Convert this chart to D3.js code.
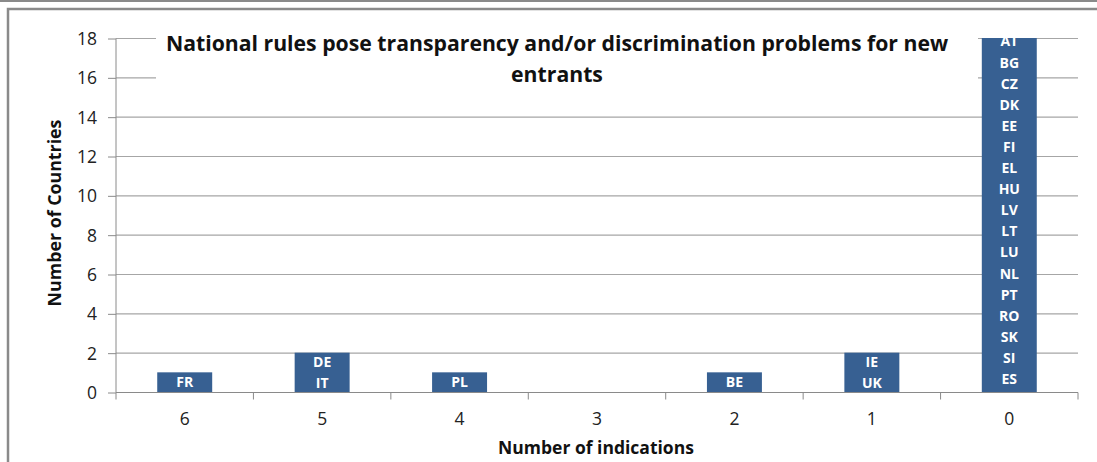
<!DOCTYPE html>
<html lang="en">
<head>
<meta charset="utf-8">
<title>indications</title>
<script src="https://d3js.org/d3.v7.min.js"></script>
<style type="text/css">
  body { margin: 0; background: #fff; }
  text { font-family: "Open Sans", Lato, sans-serif; }
  .tick text { font-size: 17.5px; fill: #222; }
  .axis-title { font-size: 16px; font-weight: bold; fill: #111; }
  .title { font-size: 18px; font-weight: bold; fill: #111; text-anchor: middle; }
  .bar-label { font-size: 14px; font-weight: bold; fill: #fff; text-anchor: middle; }
</style>
</head>
<body>
<div id="chart"></div>
<script type="text/javascript">
// data
var categories = ["6", "5", "4", "3", "2", "1", "0"];
var counts = [1, 2, 1, 0, 1, 2, 18];
var countries = [
  ["FR"],
  ["DE", "IT"],
  ["PL"],
  [],
  ["BE"],
  ["IE", "UK"],
  ["AT", "BG", "CZ", "DK", "EE", "FI", "EL", "HU", "LV", "LT", "LU", "NL", "PT", "RO", "SK", "SI", "ES"]
];
var yTicks = [0, 2, 4, 6, 8, 10, 12, 14, 16, 18];

var w = 1097, h = 462;
var plotLeft = 116, plotRight = 1078, plotTop = 38, plotBottom = 392;

var svg = d3.select("#chart").append("svg")
  .attr("width", w)
  .attr("height", h);

// shrink/grow a text so it spans the width seen in the picture
function fitWidth(sel, target) {
  var len = sel.node().getComputedTextLength();
  var fs = parseFloat(window.getComputedStyle(sel.node()).fontSize);
  sel.style("font-size", (fs * target / len) + "px");
  return fs * target / len;
}

// outer frame
svg.append("line")
  .attr("x1", 0).attr("x2", w).attr("y1", 1).attr("y2", 1)
  .style("stroke", "#8a8a8a").style("stroke-width", 2);
svg.append("path")
  .attr("d", "M8," + h + "V9H" + w)
  .style("fill", "none").style("stroke", "#8a8a8a").style("stroke-width", 2.5);

var x = d3.scaleBand().domain(categories).range([plotLeft, plotRight]).paddingInner(0).paddingOuter(0);
var y = d3.scaleLinear().domain([0, 18]).range([plotBottom, plotTop]);
var barW = x.bandwidth() / 2.5;

// gridlines
svg.append("g").selectAll("line")
  .data(yTicks.filter(function(d) { return d > 0; }))
  .enter().append("line")
  .attr("x1", plotLeft).attr("x2", plotRight)
  .attr("y1", function(d) { return y(d) + 0.5; })
  .attr("y2", function(d) { return y(d) + 0.5; })
  .style("stroke", "#a6a6a6").style("stroke-width", 1.2);

// y axis
var yAxis = d3.axisLeft(y).tickValues(yTicks).tickSize(8).tickPadding(11);
var gy = svg.append("g").attr("transform", "translate(" + plotLeft + ",0.5)").call(yAxis);
gy.attr("font-family", null).attr("font-size", null);
gy.select(".domain").remove();
gy.append("line").attr("x1", 0).attr("x2", 0).attr("y1", plotTop).attr("y2", plotBottom)
  .style("stroke", "#8a8a8a");
gy.selectAll(".tick line").style("stroke", "#8a8a8a");
gy.selectAll(".tick text").attr("dy", "0.35em");

// x axis: ticks between categories
var xAxis = d3.axisBottom(x).tickSize(0).tickPadding(20);
var gx = svg.append("g").attr("transform", "translate(0," + (plotBottom + 0.5) + ")").call(xAxis);
gx.attr("font-family", null).attr("font-size", null);
gx.select(".domain").remove();
gx.append("line").attr("x1", plotLeft).attr("x2", plotRight).attr("y1", 0).attr("y2", 0)
  .style("stroke", "#8a8a8a");
gx.selectAll(".sep")
  .data(categories.map(function(c) { return x(c); }).concat([plotRight]))
  .enter().append("line")
  .attr("x1", function(d) { return d; }).attr("x2", function(d) { return d; })
  .attr("y1", 0).attr("y2", 7)
  .style("stroke", "#8a8a8a");

// white box behind the title
svg.append("rect")
  .attr("x", 156).attr("y", 28).attr("width", 822).attr("height", 68)
  .style("fill", "#fff");

var t1 = svg.append("text").attr("class", "title")
  .attr("x", 557).attr("y", 51)
  .text("National rules pose transparency and/or discrimination problems for new");
var titleSize = fitWidth(t1, 783);
svg.append("text").attr("class", "title")
  .attr("x", 557).attr("y", 82)
  .style("font-size", titleSize + "px")
  .text("entrants");

// bars
svg.append("g").selectAll("rect")
  .data(counts)
  .enter().append("rect")
  .attr("x", function(d, i) { return x(categories[i]) + (x.bandwidth() - barW) / 2; })
  .attr("y", function(d) { return y(d); })
  .attr("width", barW)
  .attr("height", function(d) { return plotBottom - y(d); })
  .style("fill", "#376092");

// country labels inside bars, clipped to the plot area
svg.append("clipPath").attr("id", "plot")
  .append("rect").attr("x", plotLeft).attr("y", plotTop)
  .attr("width", plotRight - plotLeft).attr("height", plotBottom - plotTop);

var lineH = 21.1;
var labels = svg.append("g").attr("clip-path", "url(#plot)");
countries.forEach(function(list, i) {
  var cx = x(categories[i]) + x.bandwidth() / 2;
  var barH = plotBottom - y(counts[i]);
  var mid = (y(counts[i]) + plotBottom) / 2;
  // when the bar fills the plot, the overflowing block spills over the top
  var over = y(counts[i]) <= plotTop ? Math.max(0, list.length * lineH - barH) : 0;
  list.forEach(function(c, j) {
    labels.append("text").attr("class", "bar-label")
      .attr("x", cx)
      .attr("y", mid - over + (j - (list.length - 1) / 2) * lineH)
      .attr("dy", "0.35em")
      .text(c);
  });
});

// axis titles
var xt = svg.append("text").attr("class", "axis-title")
  .attr("text-anchor", "middle")
  .attr("x", 596).attr("y", 454)
  .text("Number of indications");
fitWidth(xt, 196);

var yt = svg.append("text").attr("class", "axis-title")
  .attr("text-anchor", "middle")
  .attr("transform", "translate(61,213) rotate(-90)")
  .text("Number of Countries");
fitWidth(yt, 187);
</script>
</body>
</html>
